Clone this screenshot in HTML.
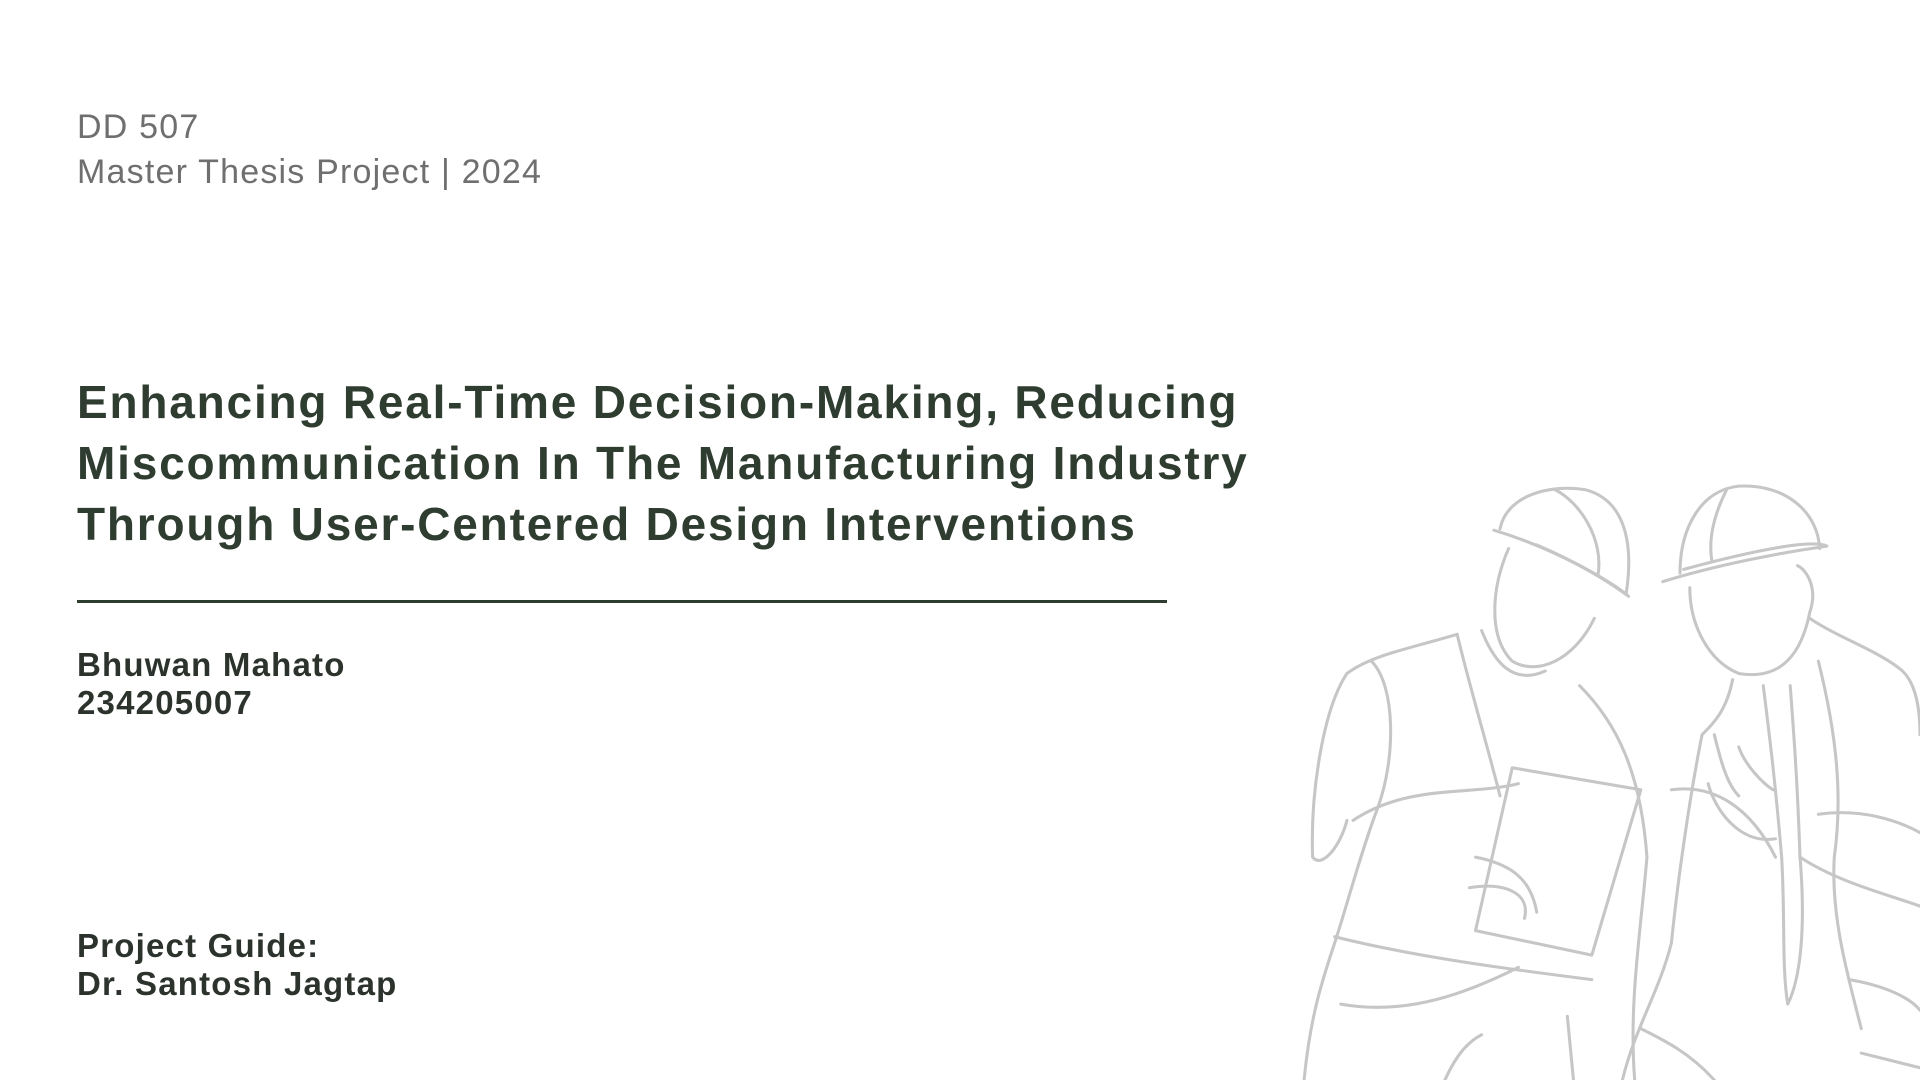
<!DOCTYPE html>
<html><head><meta charset="utf-8"><style>
html,body{margin:0;padding:0;background:#fff;}
body{width:1920px;height:1080px;position:relative;overflow:hidden;font-family:"Liberation Sans",sans-serif;}
.t{position:absolute;left:77px;white-space:nowrap;}
.sub{color:#6f6f6f;font-size:34px;letter-spacing:1.2px;}
.title{color:#2f3d31;font-size:46px;font-weight:bold;line-height:61px;letter-spacing:1.8px;}
.info{color:#2c332d;font-size:33px;line-height:38px;font-weight:bold;letter-spacing:1.2px;}
</style></head><body>
<div class="t sub" style="top:108px">DD 507</div>
<div class="t sub" style="top:153px">Master Thesis Project | 2024</div>
<div class="t title" style="top:372px">Enhancing Real-Time Decision-Making, Reducing<br>Miscommunication In The Manufacturing Industry<br>Through User-Centered Design Interventions</div>
<div style="position:absolute;left:77px;top:600px;width:1090px;height:3px;background:#2f3d31"></div>
<div class="t info" style="top:646px">Bhuwan Mahato<br>234205007</div>
<div class="t info" style="top:927px">Project Guide:<br>Dr. Santosh Jagtap</div>
<svg style="position:absolute;left:0;top:0" width="1920" height="1080" viewBox="0 0 1568 882" fill="none" stroke="#c6c6c6" stroke-width="2.5" stroke-linecap="round" stroke-linejoin="round">
<path d="M1225 432 C1230 405 1265 395 1295 400 C1325 408 1335 440 1328 485"/>
<path d="M1220 433 C1260 445 1300 465 1330 487 C1320 478 1290 460 1255 445"/>
<path d="M1270 400 C1290 410 1310 440 1305 470"/>
<path d="M1232 448 C1218 480 1215 520 1235 540 C1255 552 1285 540 1302 505"/>
<path d="M1190 518 C1150 530 1120 535 1100 550 C1080 580 1070 650 1072 700 C1080 710 1095 690 1100 670"/>
<path d="M1190 518 C1200 560 1215 610 1225 650 M1210 515 C1220 540 1235 560 1262 548"/>
<path d="M1120 540 C1140 560 1140 620 1125 660 C1110 700 1100 740 1090 770 C1080 800 1070 830 1065 882"/>
<path d="M1105 670 C1150 640 1200 650 1240 640"/>
<path d="M1235 627 L1340 645 L1300 780 L1205 760 Z"/>
<path d="M1205 700 C1230 705 1250 715 1255 745 M1200 725 C1230 720 1250 730 1245 750"/>
<path d="M1090 765 C1150 780 1220 790 1300 800 M1095 820 C1150 830 1200 810 1240 790"/>
<path d="M1290 560 C1320 590 1340 630 1345 700 C1340 760 1330 820 1335 882"/>
<path d="M1180 882 C1190 860 1200 850 1210 845 M1285 882 L1280 830"/>
<path d="M1372 468 C1372 430 1390 400 1420 397 C1460 395 1485 420 1486 448"/>
<path d="M1358 475 C1400 462 1450 452 1492 446 C1480 440 1430 450 1375 465"/>
<path d="M1410 400 C1400 420 1395 440 1398 458"/>
<path d="M1380 480 C1380 510 1395 540 1420 550 C1450 555 1470 540 1478 500 C1485 480 1475 465 1468 462"/>
<path d="M1478 505 C1500 520 1530 530 1550 545 C1565 555 1568 580 1568 600"/>
<path d="M1415 555 C1410 580 1400 590 1390 600 C1380 650 1370 720 1365 770 C1355 810 1335 840 1325 882"/>
<path d="M1440 560 C1445 600 1450 640 1455 700 C1458 750 1455 790 1460 820 C1470 800 1475 760 1470 700 C1468 640 1465 600 1462 560"/>
<path d="M1485 540 C1500 600 1505 650 1498 700 C1495 750 1510 800 1520 840"/>
<path d="M1365 645 C1400 640 1430 660 1450 700 M1395 640 C1400 660 1420 690 1450 685"/>
<path d="M1485 665 C1520 660 1550 670 1568 680 M1470 700 C1500 720 1540 730 1568 740"/>
<path d="M1340 840 C1360 850 1380 860 1400 882 M1510 800 C1540 805 1560 815 1568 825 M1520 860 C1540 865 1560 870 1568 872"/>
<path d="M1420 610 C1425 625 1440 640 1448 645 M1400 600 C1405 620 1410 640 1420 650"/>
</svg>
</body></html>
